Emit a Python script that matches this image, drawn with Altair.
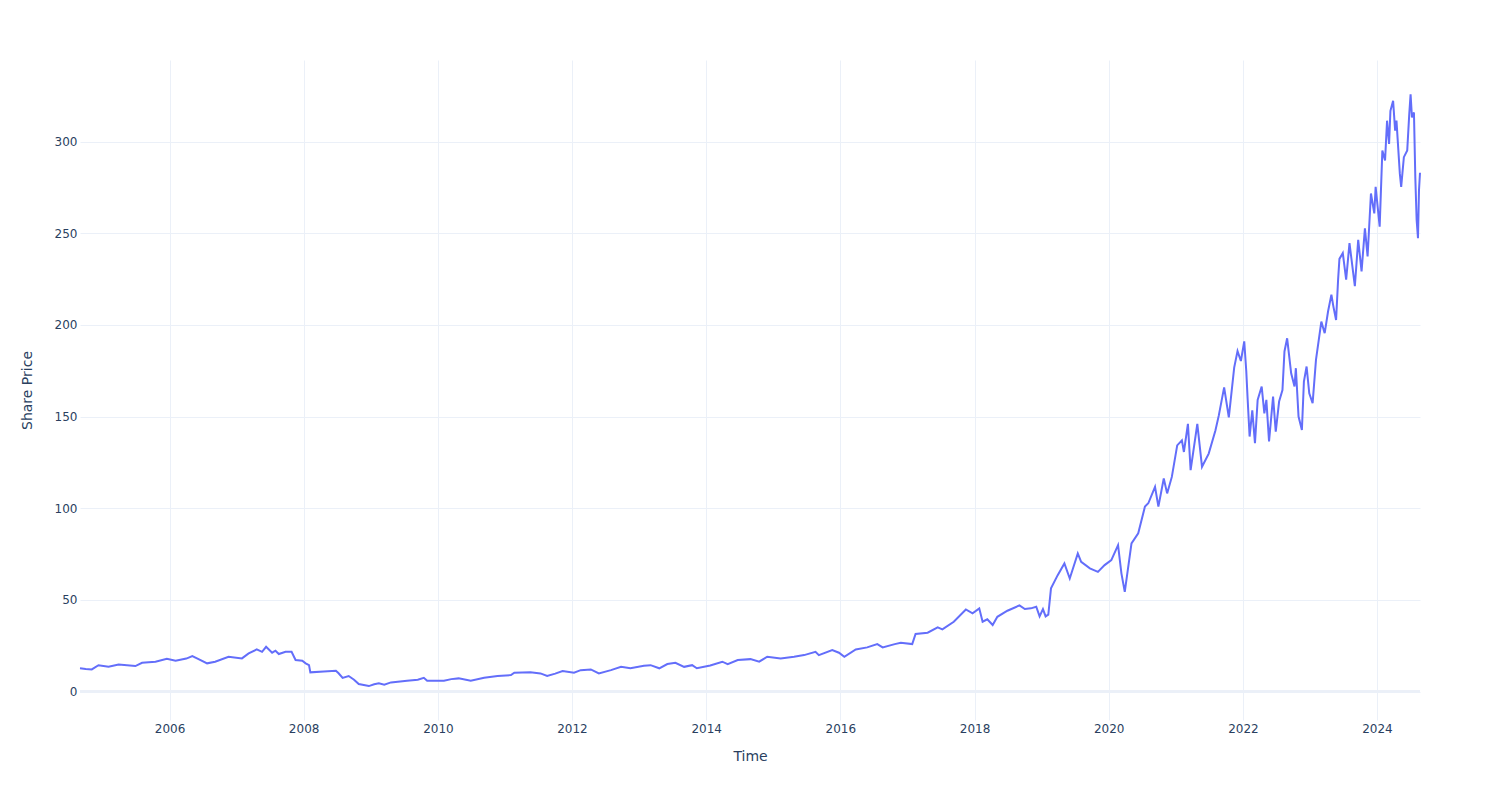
import altair as alt
import pandas as pd

# Time as decimal years
t_years = [
    2004.665, 2004.75, 2004.84, 2004.94, 2005.09, 2005.24, 2005.49, 2005.59, 2005.79, 2005.96,
    2006.09, 2006.25, 2006.34, 2006.44, 2006.56, 2006.68, 2006.88, 2007.08, 2007.18, 2007.30,
    2007.38, 2007.44, 2007.53, 2007.58, 2007.63, 2007.73, 2007.82, 2007.88, 2007.98, 2008.03,
    2008.08, 2008.10, 2008.30, 2008.48, 2008.52, 2008.58, 2008.67, 2008.75, 2008.82, 2008.97,
    2009.05, 2009.12, 2009.20, 2009.30, 2009.54, 2009.70, 2009.79, 2009.84, 2010.09, 2010.20,
    2010.31, 2010.49, 2010.69, 2010.89, 2011.09, 2011.14, 2011.38, 2011.53, 2011.63, 2011.75,
    2011.86, 2012.03, 2012.13, 2012.28, 2012.40, 2012.58, 2012.73, 2012.87, 2013.07, 2013.17,
    2013.30, 2013.42, 2013.54, 2013.67, 2013.79, 2013.86, 2014.06, 2014.24, 2014.32, 2014.47,
    2014.66, 2014.79, 2014.91, 2015.11, 2015.31, 2015.46, 2015.63, 2015.68, 2015.88, 2015.98,
    2016.06, 2016.23, 2016.40, 2016.55, 2016.63, 2016.81, 2016.90, 2017.07, 2017.12, 2017.30,
    2017.45, 2017.52, 2017.69, 2017.87, 2017.97, 2018.07, 2018.12, 2018.19, 2018.27, 2018.34,
    2018.49, 2018.67, 2018.75, 2018.84, 2018.92, 2018.97, 2019.02, 2019.06, 2019.10, 2019.14,
    2019.24, 2019.34, 2019.42, 2019.54, 2019.59, 2019.72, 2019.84, 2019.94, 2020.04, 2020.14,
    2020.19, 2020.24, 2020.34, 2020.44, 2020.54, 2020.59, 2020.69, 2020.74, 2020.82, 2020.87,
    2020.94, 2021.02, 2021.09, 2021.12, 2021.18, 2021.22, 2021.32, 2021.39, 2021.49, 2021.59,
    2021.64, 2021.72, 2021.79, 2021.87, 2021.92, 2021.97, 2022.02, 2022.05, 2022.07, 2022.10,
    2022.14, 2022.18, 2022.22, 2022.28, 2022.32, 2022.35, 2022.39, 2022.45, 2022.49, 2022.54,
    2022.59, 2022.62, 2022.66, 2022.72, 2022.77, 2022.79, 2022.83, 2022.88, 2022.91, 2022.95,
    2022.99, 2023.04, 2023.09, 2023.17, 2023.22, 2023.27, 2023.32, 2023.35, 2023.39, 2023.42,
    2023.44, 2023.49, 2023.54, 2023.59, 2023.67, 2023.72, 2023.77, 2023.82, 2023.86, 2023.91,
    2023.96, 2023.98, 2024.04, 2024.08, 2024.12, 2024.15, 2024.18, 2024.20, 2024.24, 2024.27,
    2024.29, 2024.34, 2024.36, 2024.40, 2024.45, 2024.48, 2024.50, 2024.52, 2024.55, 2024.57,
    2024.59, 2024.61, 2024.625, 2024.64,
]

share_price = [
    12.7, 12.3, 12.1, 14.4, 13.5, 14.8, 13.9, 15.7, 16.3, 17.9,
    16.8, 18.0, 19.4, 17.6, 15.4, 16.3, 19.0, 18.1, 20.8, 23.0,
    21.7, 24.4, 21.2, 22.3, 20.5, 21.7, 21.7, 17.2, 16.8, 15.4,
    14.4, 10.5, 11.0, 11.4, 10.0, 7.5, 8.5, 6.5, 4.1, 3.0,
    4.0, 4.5, 3.8, 5.0, 5.9, 6.5, 7.5, 5.9, 5.9, 6.8,
    7.2, 5.9, 7.5, 8.5, 9.0, 10.3, 10.5, 9.9, 8.5, 9.8,
    11.2, 10.3, 11.7, 12.1, 9.9, 11.7, 13.5, 12.7, 14.1, 14.4,
    12.7, 15.0, 15.7, 13.5, 14.4, 12.7, 14.2, 16.3, 15.0, 17.2,
    17.7, 16.3, 19.0, 18.1, 19.0, 19.9, 21.7, 19.9, 22.6, 21.2,
    19.0, 23.0, 24.1, 25.9, 24.1, 25.9, 26.6, 25.9, 31.4, 32.1,
    35.0, 33.9, 38.1, 44.8, 42.7, 45.4, 38.1, 39.4, 36.3, 40.8,
    44.1, 47.0, 45.0, 45.4, 46.3, 41.0, 45.0, 41.0, 42.0, 56.3,
    63.5, 69.9, 61.7, 75.4, 70.8, 67.2, 65.3, 69.0, 71.7, 79.9,
    64.5, 54.4, 80.8, 86.3, 100.9, 102.7, 111.7, 100.9, 116.2, 108.1,
    117.1, 134.3, 137.0, 130.7, 146.0, 120.8, 146.0, 122.6, 129.8, 142.4,
    150.5, 165.9, 149.6, 176.7, 185.7, 180.3, 191.0, 175.0, 160.0, 139.1,
    153.4, 135.5, 159.1, 166.4, 151.8, 159.1, 136.4, 160.9, 141.8, 158.2,
    164.5, 185.5, 192.7, 173.6, 166.4, 176.4, 150.0, 142.7, 169.1, 177.3,
    162.7, 157.3, 180.9, 201.8, 195.5, 207.3, 216.5, 210.0, 202.7, 224.7,
    236.0, 239.2, 224.7, 244.6, 221.1, 246.4, 229.2, 252.7, 237.4, 271.7,
    260.8, 275.3, 253.6, 295.1, 289.7, 311.4, 298.7, 316.8, 322.2, 306.0,
    311.4, 282.5, 275.3, 291.5, 295.1, 315.0, 325.8, 313.2, 315.9, 280.7,
    257.2, 247.3, 273.5, 283.0,
]

y_ticks = [0, 50, 100, 150, 200, 250, 300]
x_tick_years = [2006, 2008, 2010, 2012, 2014, 2016, 2018, 2020, 2022, 2024]


def to_date(y):
    yr = int(y)
    start = pd.Timestamp(yr, 1, 1)
    end = pd.Timestamp(yr + 1, 1, 1)
    return (start + (end - start) * (y - yr)).strftime("%Y-%m-%dT%H:%M:%SZ")


df = pd.DataFrame({"Time": [to_date(t) for t in t_years], "Share Price": share_price})

FONT = "DejaVu Sans"
TXT = "#2a3f5f"
GRID = "#EBF0F8"

x_enc = alt.X(
    "Time:T",
    scale=alt.Scale(type="utc", nice=False),
    axis=alt.Axis(
        values=[alt.DateTime(year=y, month=1, date=1, utc=True) for y in x_tick_years],
        format="%Y",
        formatType="utc",
        title="Time",
        grid=True,
        gridColor=GRID,
        gridWidth=1,
        domain=False,
        ticks=False,
        labelPadding=3,
        labelFontSize=12,
        labelColor=TXT,
        labelFont=FONT,
        titleFont=FONT,
        titleFontSize=14,
        titleFontWeight="normal",
        titleColor=TXT,
        titleX=670,
        titleY=36,
        titleBaseline="middle",
        titleAlign="center",
    ),
)

y_enc = alt.Y(
    "Share Price:Q",
    scale=alt.Scale(domain=[-15.5, 344.5], nice=False, zero=False),
    axis=alt.Axis(
        values=y_ticks,
        title="Share Price",
        grid=True,
        gridColor=GRID,
        gridWidth=1,
        domain=False,
        ticks=False,
        labelPadding=3,
        labelFontSize=12,
        labelColor=TXT,
        labelFont=FONT,
        titleFont=FONT,
        titleFontSize=14,
        titleFontWeight="normal",
        titleColor=TXT,
        titleX=-53,
        titleY=330,
        titleAngle=270,
        titleBaseline="middle",
        titleAlign="center",
    ),
)

zero_line = alt.Chart(df).mark_rule(color=GRID, strokeWidth=2).encode(y=alt.datum(0))

line = alt.Chart(df).mark_line(color="#636efa", strokeWidth=2).encode(x=x_enc, y=y_enc)

chart = (
    alt.layer(zero_line, line)
    .properties(
        width=1340,
        height=660,
        background="white",
        autosize=alt.AutoSizeParams(type="none"),
        padding={"left": 80, "top": 60, "right": 80, "bottom": 80},
    )
    .configure_view(stroke=None)
)

chart.save("out.html", embed_options={"renderer": "svg", "actions": False})
